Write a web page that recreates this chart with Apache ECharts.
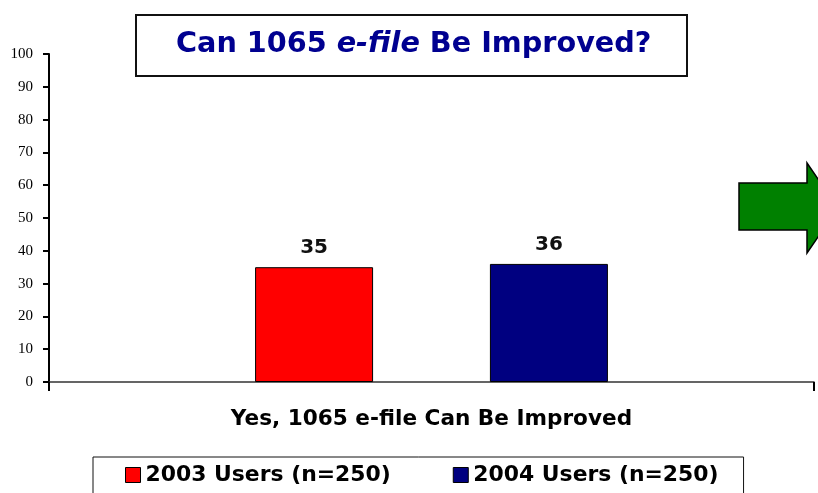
<!DOCTYPE html>
<html>
<head>
<meta charset="utf-8">
<script src="https://cdn.jsdelivr.net/npm/echarts@6/dist/echarts.min.js"></script>
<style>html,body{margin:0;padding:0;background:#fff;}#c{width:818px;height:493px;}</style>
</head>
<body>
<div id="c"></div>
<script>
var categories = ['Yes, 1065 e-file Can Be Improved'];
var seriesNames = ['2003 Users (n=250)', '2004 Users (n=250)'];
var values2003 = [35];
var values2004 = [36];
var yTicks = [0, 100, 10]; // min, max, interval

var chart = echarts.init(document.getElementById('c'), null, {renderer: 'canvas'});
chart.setOption({
  animation: false,
  backgroundColor: '#ffffff',
  title: {
    text: '{a|Can 1065 }{i|e-file}{a| Be Improved?}',
    left: 136, top: 14,
    padding: [16, 36, 17, 40],
    borderColor: '#111',
    borderWidth: 2,
    textStyle: {
      rich: {
        a: {fontFamily: 'DejaVu Sans', fontWeight: 'bold', fontSize: 28.7, color: '#000090', lineHeight: 30},
        i: {fontFamily: 'DejaVu Sans', fontWeight: 'bold', fontStyle: 'italic', fontSize: 28.7, color: '#000090', lineHeight: 30}
      }
    }
  },
  legend: {
    left: 93, top: 457,
    padding: [7, 25, 20, 32],
    borderColor: '#111', borderWidth: 1,
    itemGap: 62, itemWidth: 15, itemHeight: 15,
    icon: 'rect',
    itemStyle: {borderColor: '#000', borderWidth: 1},
    textStyle: {fontFamily: 'DejaVu Sans', fontWeight: 'bold', fontSize: 21.9, color: '#000'},
    data: seriesNames
  },
  grid: {left: 49, right: 4, top: 54, bottom: 111, containLabel: false},
  xAxis: {
    type: 'category',
    data: categories,
    axisLine: {lineStyle: {color: '#333', width: 1.5}},
    axisTick: {show: true, length: 9, lineStyle: {color: '#000', width: 2}},
    axisLabel: {margin: 26, fontFamily: 'DejaVu Sans', fontWeight: 'bold', fontSize: 21.6, color: '#000'}
  },
  yAxis: {
    type: 'value',
    min: yTicks[0], max: yTicks[1], interval: yTicks[2],
    axisLine: {show: true, lineStyle: {color: '#000', width: 2}},
    axisTick: {show: true, length: 6, lineStyle: {color: '#000', width: 2}},
    axisLabel: {margin: 16, fontFamily: 'Liberation Serif', fontSize: 15, color: '#000'},
    splitLine: {show: false}
  },
  series: [
    {
      name: seriesNames[0], type: 'bar', data: values2003,
      barWidth: 118, barGap: '99%',
      itemStyle: {color: '#ff0000', borderColor: '#000', borderWidth: 1},
      label: {show: true, position: 'top', distance: 9, fontFamily: 'DejaVu Sans', fontWeight: 'bold', fontSize: 20, color: '#111'}
    },
    {
      name: seriesNames[1], type: 'bar', data: values2004,
      barWidth: 118,
      itemStyle: {color: '#000080', borderColor: '#000', borderWidth: 1},
      label: {show: true, position: 'top', distance: 9, fontFamily: 'DejaVu Sans', fontWeight: 'bold', fontSize: 20, color: '#111'}
    }
  ],
  graphic: [
    {
      type: 'polygon',
      shape: {points: [[739,183],[807,183],[807,163],[838,208],[807,253],[807,230],[739,230]]},
      style: {fill: '#008000', stroke: '#000', lineWidth: 1.5}
    }
  ]
});
</script>
</body>
</html>
